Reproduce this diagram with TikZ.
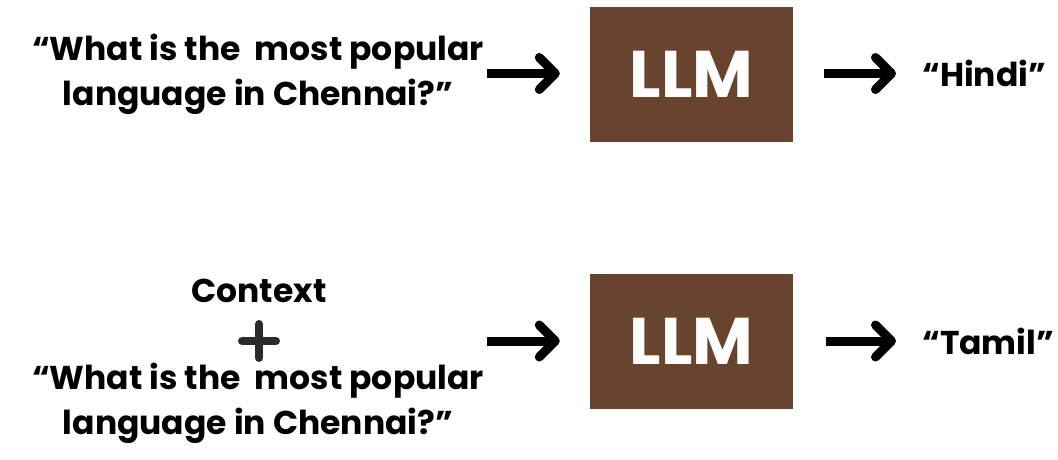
\documentclass[tikz,border=0pt]{standalone}
\usepackage{fontspec}
\setmainfont{Poppins}[UprightFont=* SemiBold, BoldFont=* Bold]
\usetikzlibrary{arrows.meta,calc}
\definecolor{llmbrown}{HTML}{68432E}
\definecolor{plusgray}{HTML}{2B2B2B}
\begin{document}
\begin{tikzpicture}[x=1pt,y=-1pt,
  txt/.style={font=\fontsize{33}{45}\selectfont\bfseries, align=center, inner sep=0pt, text=black},
  llmbox/.style={fill=llmbrown, minimum width=203pt, minimum height=135pt, inner sep=0pt,
    font=\fontsize{66}{66}\selectfont\bfseries, text=white},
  bigarrow/.style={line width=9pt, -{Straight Barb[length=16pt, width=32pt, round]}}]
\useasboundingbox (0,0) rectangle (1058,460);
\node[txt] (q1) at (258,74) {“What is the\ \ most popular\\language in Chennai?”};
\node[llmbox] (m1) at (691.5,74.5) {LLM};
\node[txt, anchor=west] (a1) at (922,73) {“Hindi”};
\node[txt] (ctx) at (259,291) {Context};
\node[txt] (q2) at (258,403) {“What is the\ \ most popular\\language in Chennai?”};
\node[llmbox] (m2) at (691.5,341) {LLM};
\node[txt, anchor=west] (a2) at (922,341) {“Tamil”};
\coordinate (pl) at (259,341);
\draw[plusgray, line width=8pt, line cap=round] ($(pl)+(-17,0)$) -- ($(pl)+(17,0)$) ($(pl)+(0,-17)$) -- ($(pl)+(0,17)$);
\draw[bigarrow] ($(m1.west)+(-103,-1)$) -- ($(m1.west)+(-30,-1)$);
\draw[bigarrow] ($(m1.east)+(31,-1)$) -- ($(m1.east -| a1.west)+(-26,-1)$);
\draw[bigarrow] ($(m2.west)+(-103,0)$) -- ($(m2.west)+(-30,0)$);
\draw[bigarrow] ($(m2.east)+(33,0)$) -- ($(m2.east -| a2.west)+(-26,0)$);
\end{tikzpicture}
\end{document}
